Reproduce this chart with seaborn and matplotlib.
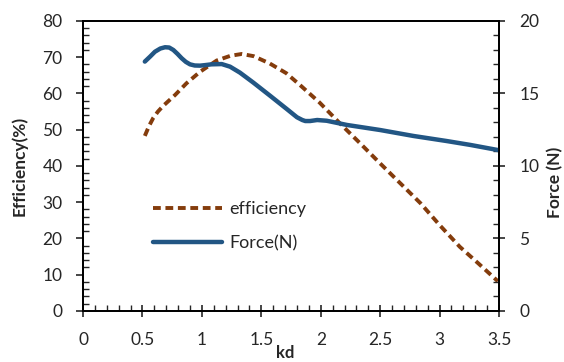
import numpy as np
import pandas as pd
import seaborn as sns
import matplotlib.pyplot as plt
from matplotlib.ticker import MultipleLocator

kd_eff=[0.52,0.555,0.59,0.63,0.675,0.775,0.87,0.985,1.125,1.24,1.335,1.435,1.57,1.71,1.83,1.99,2.16,2.33,2.50,2.67,2.84,3.00,3.17,3.33,3.49]
efficiency=[48.3,51.0,53.2,55.0,56.6,59.6,62.8,66.0,69.1,70.4,70.9,70.3,68.3,65.6,62.2,57.5,51.8,46.3,40.7,35.2,29.7,23.7,17.7,13.0,8.2]
kd_force=[0.52,0.565,0.605,0.65,0.69,0.725,0.76,0.795,0.83,0.865,0.90,0.94,0.985,1.03,1.08,1.167,1.237,1.32,1.433,1.573,1.714,1.80,1.845,1.87,1.91,1.97,2.05,2.22,2.50,2.78,3.06,3.26,3.49]
force=[17.2,17.55,17.88,18.1,18.19,18.17,18.0,17.73,17.43,17.18,17.01,16.93,16.92,16.96,17.01,17.03,16.85,16.44,15.75,14.85,13.93,13.36,13.17,13.1,13.1,13.17,13.12,12.83,12.48,12.07,11.72,11.45,11.1]

df_eff=pd.DataFrame({"kd":kd_eff,"efficiency":efficiency})
df_force=pd.DataFrame({"kd":kd_force,"force":force})

sns.set_style("white")
plt.rcParams['font.family']=['Lato','DejaVu Sans']

fig=plt.figure(figsize=(5.64,3.62),dpi=100)
ax=fig.add_axes([0.1472,0.141,0.7376,0.801])
ax2=ax.twinx()

sns.lineplot(data=df_eff,x="kd",y="efficiency",ax=ax,color="#843C0C",linewidth=2.8,label="efficiency",legend=False,sort=False)
ax.lines[0].set_dashes((2.0,1.2))
sns.lineplot(data=df_force,x="kd",y="force",ax=ax2,color="#225684",linewidth=3.2,label="Force(N)",legend=False,sort=False)
ax2.lines[0].set_solid_joinstyle("round")

ax.set_xlim(0,3.5)
ax.set_ylim(0,80)
ax2.set_ylim(0,20)
ax.xaxis.set_minor_locator(MultipleLocator(0.1))
ax.yaxis.set_major_locator(MultipleLocator(10))
ax.yaxis.set_minor_locator(MultipleLocator(2))
ax2.yaxis.set_major_locator(MultipleLocator(5))
ax2.yaxis.set_minor_locator(MultipleLocator(1))
ax.set_xticks(np.arange(0,3.51,0.5))
ax.set_xticklabels(["0","0.5","1","1.5","2","2.5","3","3.5"])

for a in (ax,ax2):
    for s in a.spines.values():
        s.set_color("black")
        s.set_linewidth(1.3)
ax.tick_params(axis="x",which="major",direction="inout",length=9,width=1.2,labelsize=12.5,pad=11,bottom=True)
ax.tick_params(axis="x",which="minor",direction="in",length=4.5,width=1.0,bottom=True)
ax.tick_params(axis="y",which="major",direction="out",length=4.7,width=1.2,labelsize=12.5,pad=10,left=True)
ax.tick_params(axis="y",which="minor",direction="in",length=4,width=1.0,left=True)
ax2.tick_params(axis="y",which="major",direction="inout",length=9,width=1.2,labelsize=12.5,pad=10,right=True)
ax2.tick_params(axis="y",which="minor",direction="in",length=4,width=1.0,right=True)

ax.set_xlabel("kd",fontsize=12,fontweight="bold")
ax.set_ylabel("Efficiency(%)",fontsize=12.5,fontweight="bold")
ax2.set_ylabel("Force (N)",fontsize=12.5,fontweight="bold")
ax.xaxis.set_label_coords(0.486,-0.118)
ax.yaxis.set_label_coords(-0.132,0.5)
ax2.yaxis.set_label_coords(1.115,0.445)

h1,l1=ax.get_legend_handles_labels()
h2,l2=ax2.get_legend_handles_labels()
ax2.legend(h1+h2,l1+l2,loc="upper left",bbox_to_anchor=(0.168,0.379),frameon=False,fontsize=13,handlelength=3.8,handletextpad=0.45,labelspacing=1.0,borderpad=0,borderaxespad=0)

plt.savefig("out.png",dpi=100)
